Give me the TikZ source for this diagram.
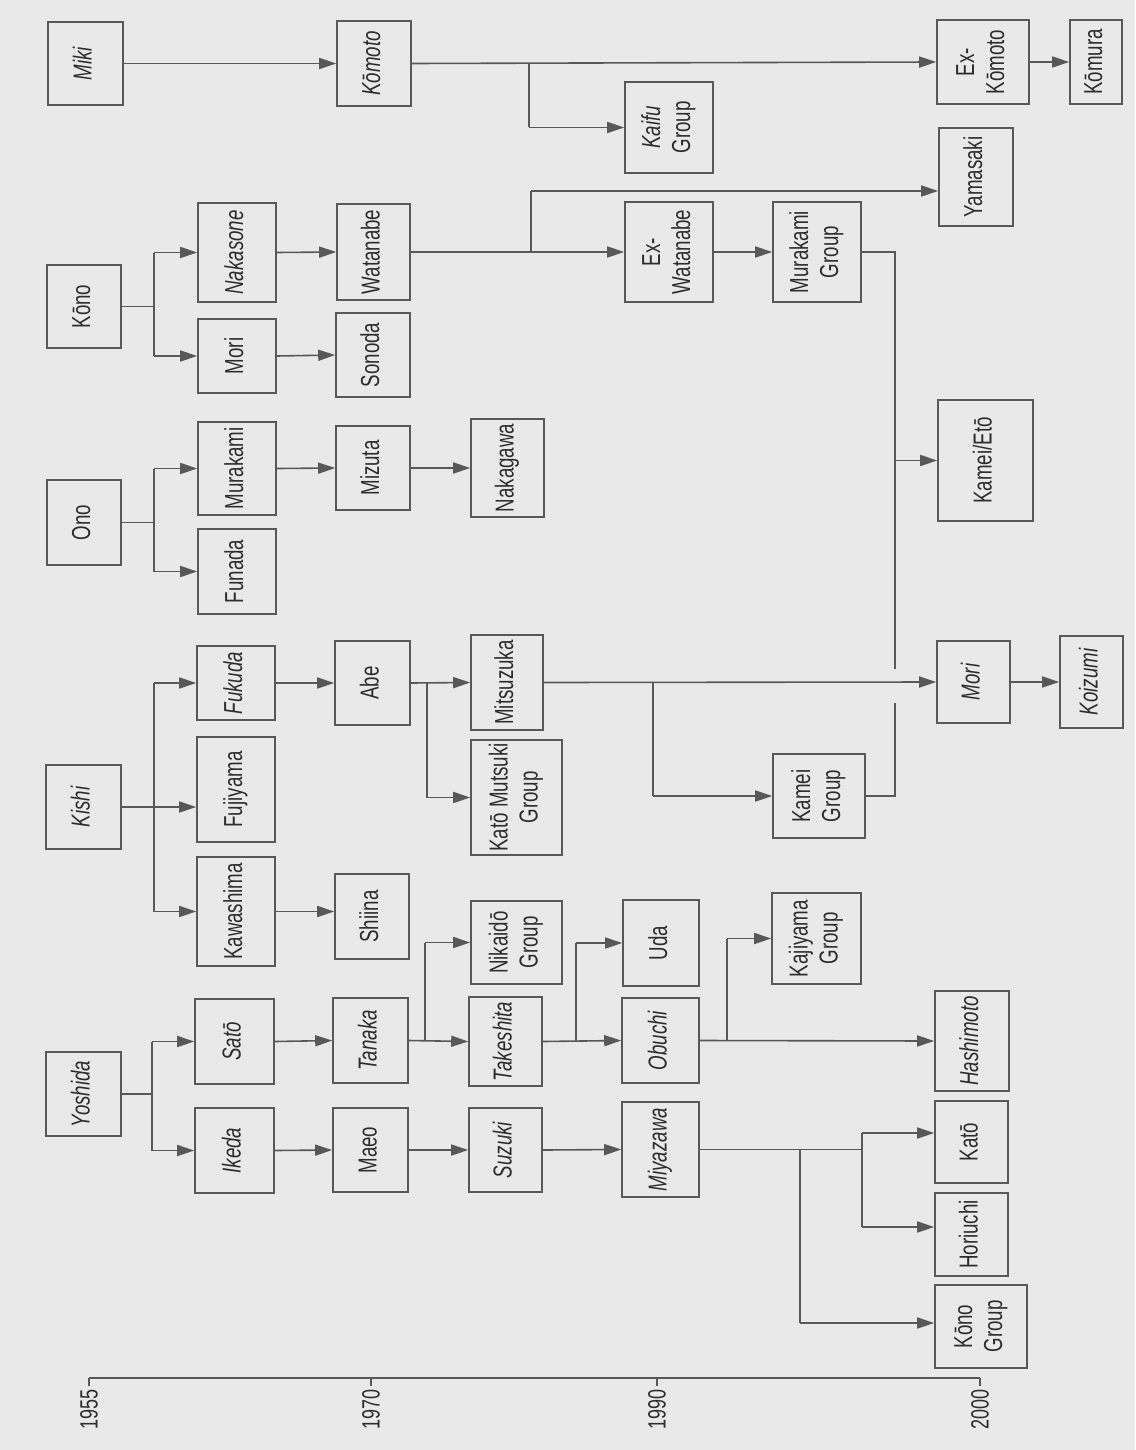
\documentclass[tikz,border=0pt]{standalone}
\usepackage{fontspec}
\setmainfont{Liberation Sans}[FakeStretch=0.72]
\usepackage{graphicx}
\usetikzlibrary{arrows.meta}
\definecolor{bg}{RGB}{233,233,233}
\definecolor{ink}{RGB}{88,88,88}
\definecolor{txt}{RGB}{45,45,45}
\newcommand{\rt}[1]{\rotatebox{90}{\begin{tabular}{@{}c@{}}#1\end{tabular}}}
\begin{document}
\begin{tikzpicture}[x=1pt,y=-1pt,
 box/.style={draw=ink, line width=1.6pt, inner sep=0pt, text=txt, font=\fontsize{26}{30}\selectfont},
 ln/.style={draw=ink, line width=1.6pt},
 arr/.style={ln, -{Triangle[length=17pt,width=11pt]}},
 yr/.style={text=txt, inner sep=0pt, anchor=north, font=\fontsize{25}{30}\selectfont}]
\fill[bg] (0,0) rectangle (1135,1450);
\useasboundingbox (0,0) rectangle (1135,1450);

% column 1
\node[box, minimum width=75pt, minimum height=83pt] (miki) at (85.5,63.5) {\rt{\itshape Miki}};
\node[box, minimum width=74pt, minimum height=83pt] (kono) at (84,306.5) {\rt{Kōno}};
\node[box, minimum width=74pt, minimum height=85pt] (ono) at (84,522.5) {\rt{Ono}};
\node[box, minimum width=75pt, minimum height=84pt] (kishi) at (83.5,807) {\rt{\itshape Kishi}};
\node[box, minimum width=75pt, minimum height=84pt] (yoshida) at (83.5,1094) {\rt{\itshape Yoshida}};
% column 2
\node[box, minimum width=78pt, minimum height=99pt] (nakasone) at (237,252.5) {\rt{\itshape Nakasone}};
\node[box, minimum width=78pt, minimum height=74pt] (moria) at (237,356) {\rt{Mori}};
\node[box, minimum width=78pt, minimum height=93pt] (murakami) at (237,468.5) {\rt{Murakami}};
\node[box, minimum width=78pt, minimum height=85pt] (funada) at (237,571.5) {\rt{Funada}};
\node[box, minimum width=78pt, minimum height=74pt] (fukuda) at (236,683) {\rt{\itshape Fukuda}};
\node[box, minimum width=78pt, minimum height=105pt] (fujiyama) at (236,789.5) {\rt{Fujiyama}};
\node[box, minimum width=78pt, minimum height=109pt] (kawashima) at (236,911.5) {\rt{Kawashima}};
\node[box, minimum width=79pt, minimum height=85pt] (sato) at (234.5,1041.5) {\rt{\itshape Satō}};
\node[box, minimum width=79pt, minimum height=85pt] (ikeda) at (234.5,1150.5) {\rt{\itshape Ikeda}};
% column 3
\node[box, minimum width=74pt, minimum height=85pt] (komoto) at (374,63.5) {\rt{\itshape Kōmoto}};
\node[box, minimum width=73pt, minimum height=96pt] (watanabe) at (373.5,252) {\rt{Watanabe}};
\node[box, minimum width=74pt, minimum height=84pt] (sonoda) at (373,355) {\rt{Sonoda}};
\node[box, minimum width=74pt, minimum height=84pt] (mizuta) at (373,468) {\rt{Mizuta}};
\node[box, minimum width=75pt, minimum height=84pt] (abe) at (372.5,683) {\rt{Abe}};
\node[box, minimum width=74pt, minimum height=85pt] (shiina) at (372,916.5) {\rt{Shiina}};
\node[box, minimum width=75pt, minimum height=85pt] (tanaka) at (370.5,1040.5) {\rt{\itshape Tanaka}};
\node[box, minimum width=75pt, minimum height=84pt] (maeo) at (370.5,1150) {\rt{Maeo}};
% column 4
\node[box, minimum width=73pt, minimum height=98pt] (nakagawa) at (507.5,468) {\rt{Nakagawa}};
\node[box, minimum width=72pt, minimum height=95pt] (mitsuzuka) at (507,682.5) {\rt{Mitsuzuka}};
\node[box, minimum width=91pt, minimum height=115pt] (katomutsuki) at (516.5,797.5) {\rt{Katō Mutsuki\\Group}};
\node[box, minimum width=91pt, minimum height=83pt] (nikaido) at (516.5,942.5) {\rt{Nikaidō\\Group}};
\node[box, minimum width=73pt, minimum height=89pt] (takeshita) at (505.5,1041.5) {\rt{\itshape Takeshita}};
\node[box, minimum width=73pt, minimum height=84pt] (suzuki) at (505.5,1150) {\rt{\itshape Suzuki}};
% column 5
\node[box, minimum width=88pt, minimum height=91pt] (kaifu) at (669,127.5) {\rt{\itshape Kaifu\\Group}};
\node[box, minimum width=88pt, minimum height=100pt] (exwatanabe) at (669,252) {\rt{Ex-\\Watanabe}};
\node[box, minimum width=76pt, minimum height=86pt] (uda) at (661,943) {\rt{Uda}};
\node[box, minimum width=77pt, minimum height=85pt] (obuchi) at (660.5,1040.5) {\rt{\itshape Obuchi}};
\node[box, minimum width=77pt, minimum height=95pt] (miyazawa) at (660.5,1149.5) {\rt{\itshape Miyazawa}};
% column 6
\node[box, minimum width=88pt, minimum height=100pt] (murakamig) at (817,252) {\rt{Murakami\\Group}};
\node[box, minimum width=92pt, minimum height=84pt] (kameig) at (819,796) {\rt{Kamei\\Group}};
\node[box, minimum width=89pt, minimum height=91pt] (kajiyama) at (816.5,938.5) {\rt{Kajiyama\\Group}};
% column 7
\node[box, minimum width=92pt, minimum height=84pt] (exkomoto) at (983,62) {\rt{Ex-\\Kōmoto}};
\node[box, minimum width=74pt, minimum height=98pt] (yamasaki) at (976,177) {\rt{Yamasaki}};
\node[box, minimum width=95pt, minimum height=121pt] (kameieto) at (985.5,460.5) {\rt{Kamei/Etō}};
\node[box, minimum width=73pt, minimum height=82pt] (morib) at (973.5,682) {\rt{\itshape Mori}};
\node[box, minimum width=74pt, minimum height=100pt] (hashimoto) at (972,1041) {\rt{\itshape Hashimoto}};
\node[box, minimum width=73pt, minimum height=82pt] (kato) at (971.5,1142) {\rt{Katō}};
\node[box, minimum width=73pt, minimum height=83pt] (horiuchi) at (971.5,1234.5) {\rt{Horiuchi}};
\node[box, minimum width=92pt, minimum height=83pt] (konog) at (981,1326.5) {\rt{Kōno\\Group}};
% column 8
\node[box, minimum width=52pt, minimum height=84pt] (komura) at (1096,62) {\rt{Kōmura}};
\node[box, minimum width=63pt, minimum height=92pt] (koizumi) at (1091.5,682) {\rt{\itshape Koizumi}};

% branch coordinates
\coordinate (bA) at (154,0);
\coordinate (bY) at (152,0);
\coordinate (bKom) at (529,0);
\coordinate (bWat) at (531,0);
\coordinate (bAbe) at (427,0);
\coordinate (bTan) at (425,0);
\coordinate (bTak) at (576,0);
\coordinate (bObu) at (727,0);
\coordinate (bMit) at (653,0);
\coordinate (bMiyA) at (800,0);
\coordinate (bMiyB) at (862,0);
\coordinate (bMur) at (895,0);
\coordinate (yYam) at (0,191);
\coordinate (yKato) at (0,1133);
\coordinate (yHor) at (0,1227);
\coordinate (yKonoG) at (0,1323);
\coordinate (gapA) at (895,669);
\coordinate (gapB) at (895,703);

% Miki / Komoto line
\draw[arr] (miki.east) -- (komoto.west);
\draw[arr] (komoto.east) -- (exkomoto.west);
\draw[ln] (komoto.east -| bKom) -- (kaifu.west -| bKom);
\draw[arr] (kaifu.west -| bKom) -- (kaifu.west);
\draw[arr] (exkomoto.east) -- (komura.west);

% Kono
\draw[ln] (kono.east) -- (kono.east -| bA);
\draw[ln] (nakasone.west -| bA) -- (moria.west -| bA);
\draw[arr] (nakasone.west -| bA) -- (nakasone.west);
\draw[arr] (moria.west -| bA) -- (moria.west);
\draw[arr] (nakasone.east) -- (watanabe.west);
\draw[arr] (moria.east) -- (sonoda.west);
\draw[arr] (watanabe.east) -- (exwatanabe.west);
\draw[ln] (watanabe.east -| bWat) -- (bWat |- yYam);
\draw[arr] (bWat |- yYam) -- (yamasaki.west |- yYam);
\draw[arr] (exwatanabe.east) -- (murakamig.west);
\draw[ln] (murakamig.east) -- (murakamig.east -| bMur) -- (gapA);
\draw[ln] (gapB) -- (kameig.east -| bMur) -- (kameig.east);
\draw[arr] (kameieto.west -| bMur) -- (kameieto.west);

% Ono
\draw[ln] (ono.east) -- (ono.east -| bA);
\draw[ln] (murakami.west -| bA) -- (funada.west -| bA);
\draw[arr] (murakami.west -| bA) -- (murakami.west);
\draw[arr] (funada.west -| bA) -- (funada.west);
\draw[arr] (murakami.east) -- (mizuta.west);
\draw[arr] (mizuta.east) -- (nakagawa.west);

% Kishi
\draw[ln] (kishi.east) -- (kishi.east -| bA);
\draw[ln] (fukuda.west -| bA) -- (kawashima.west -| bA);
\draw[arr] (fukuda.west -| bA) -- (fukuda.west);
\draw[arr] (kishi.east -| bA) -- (kishi.east -| fujiyama.west);
\draw[arr] (kawashima.west -| bA) -- (kawashima.west);
\draw[arr] (fukuda.east) -- (abe.west);
\draw[arr] (kawashima.east) -- (kawashima.east -| shiina.west);
\draw[arr] (abe.east) -- (mitsuzuka.west);
\draw[ln] (abe.east -| bAbe) -- (katomutsuki.west -| bAbe);
\draw[arr] (katomutsuki.west -| bAbe) -- (katomutsuki.west);
\draw[arr] (mitsuzuka.east) -- (morib.west);
\draw[ln] (mitsuzuka.east -| bMit) -- (kameig.west -| bMit);
\draw[arr] (kameig.west -| bMit) -- (kameig.west);
\draw[arr] (morib.east) -- (koizumi.west);

% Yoshida
\draw[ln] (yoshida.east) -- (yoshida.east -| bY);
\draw[ln] (sato.west -| bY) -- (ikeda.west -| bY);
\draw[arr] (sato.west -| bY) -- (sato.west);
\draw[arr] (ikeda.west -| bY) -- (ikeda.west);
\draw[arr] (sato.east) -- (tanaka.west);
\draw[arr] (ikeda.east) -- (maeo.west);
\draw[arr] (maeo.east) -- (suzuki.west);
\draw[arr] (suzuki.east) -- (miyazawa.west);
\draw[arr] (tanaka.east) -- (takeshita.west);
\draw[ln] (tanaka.east -| bTan) -- (nikaido.west -| bTan);
\draw[arr] (nikaido.west -| bTan) -- (nikaido.west);
\draw[arr] (takeshita.east) -- (obuchi.west);
\draw[ln] (takeshita.east -| bTak) -- (uda.west -| bTak);
\draw[arr] (uda.west -| bTak) -- (uda.west);
\draw[arr] (obuchi.east) -- (hashimoto.west);
\draw[ln] (obuchi.east -| bObu) -- (kajiyama.west -| bObu);
\draw[arr] (kajiyama.west -| bObu) -- (kajiyama.west);
\draw[ln] (miyazawa.east) -- (miyazawa.east -| bMiyB);
\draw[ln] (miyazawa.east -| bMiyA) -- (bMiyA |- yKonoG);
\draw[arr] (bMiyA |- yKonoG) -- (konog.west |- yKonoG);
\draw[ln] (bMiyB |- yKato) -- (bMiyB |- yHor);
\draw[arr] (bMiyB |- yKato) -- (kato.west |- yKato);
\draw[arr] (bMiyB |- yHor) -- (horiuchi.west |- yHor);

% time axis
\coordinate (t55) at (89,1378);
\coordinate (t70) at (371,1378);
\coordinate (t90) at (657,1378);
\coordinate (t00) at (980,1378);
\draw[ln] (t55) -- (t00);
\draw[ln] (t55) -- ++(0,8);
\draw[ln] (t70) -- ++(0,8);
\draw[ln] (t90) -- ++(0,8);
\draw[ln] (t00) -- ++(0,8);
\node[yr] (y55) at (89,1389) {\rotatebox{90}{1955}};
\node[yr] (y70) at (371,1389) {\rotatebox{90}{1970}};
\node[yr] (y90) at (657,1389) {\rotatebox{90}{1990}};
\node[yr] (y00) at (980,1389) {\rotatebox{90}{2000}};
\end{tikzpicture}
\end{document}
